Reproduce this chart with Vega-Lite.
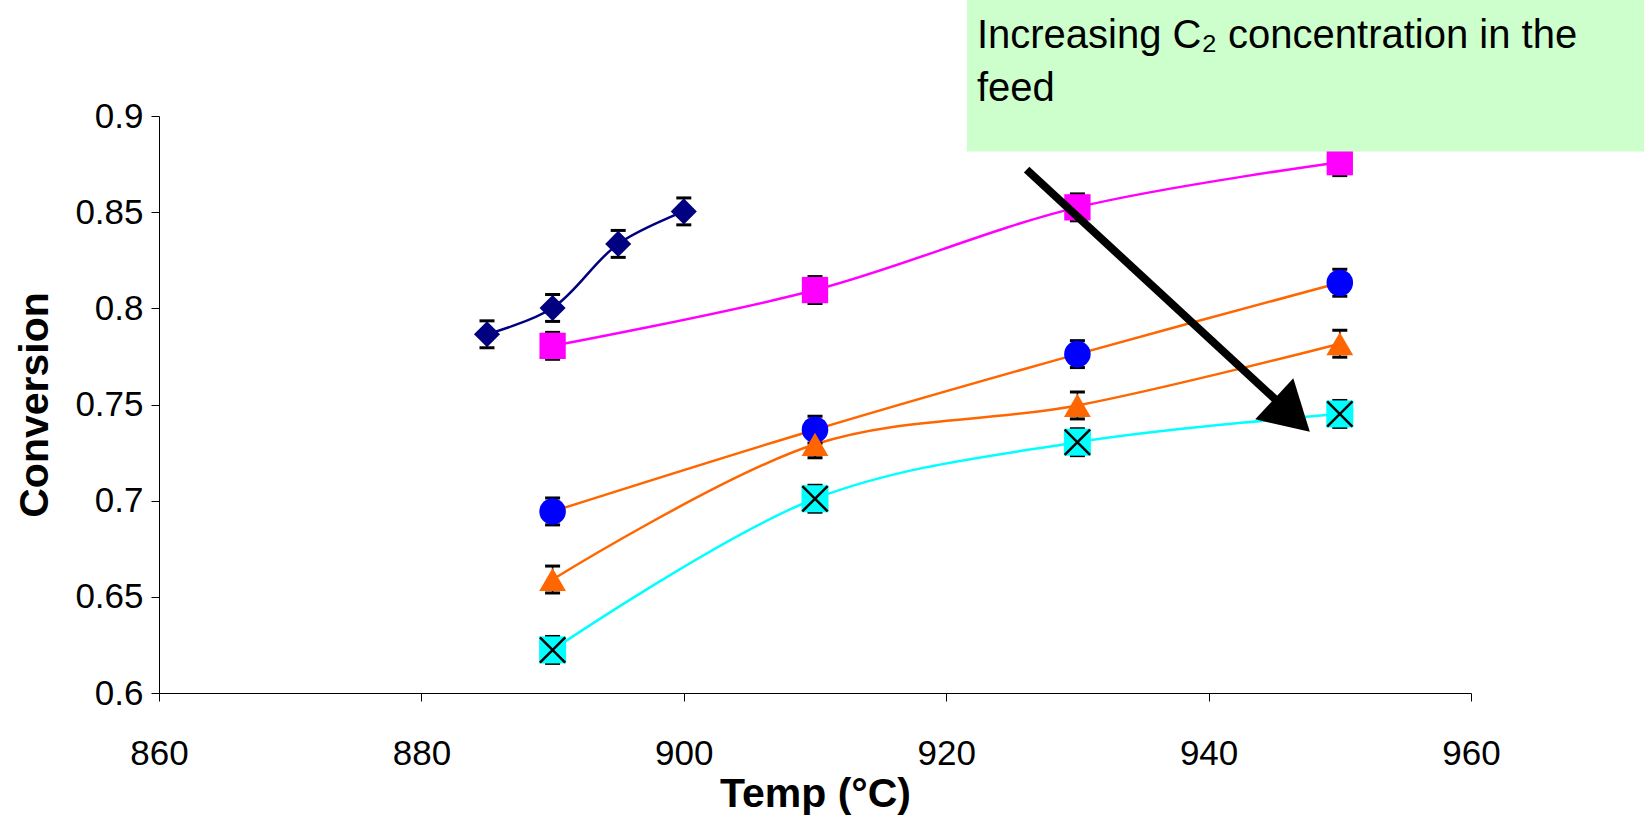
{
  "$schema": "https://vega.github.io/schema/vega-lite/v6.json",
  "width": 1312,
  "height": 577,
  "autosize": {"type": "none"},
  "padding": {"left": 159, "top": 116, "right": 173, "bottom": 129},
  "background": "white",
  "config": {"view": {"stroke": null}, "font": "Liberation Sans"},
  "datasets": {
    "pts": [
      {"series": "S1", "temp": 885, "conv": 0.7865, "err": 0.007},
      {"series": "S1", "temp": 890, "conv": 0.8002, "err": 0.007},
      {"series": "S1", "temp": 895, "conv": 0.8335, "err": 0.007},
      {"series": "S1", "temp": 900, "conv": 0.8504, "err": 0.007},
      {"series": "S2", "temp": 890, "conv": 0.7805, "err": 0.007},
      {"series": "S2", "temp": 910, "conv": 0.8095, "err": 0.007},
      {"series": "S2", "temp": 930, "conv": 0.8525, "err": 0.007},
      {"series": "S2", "temp": 950, "conv": 0.876, "err": 0.007},
      {"series": "S3", "temp": 890, "conv": 0.6944, "err": 0.007},
      {"series": "S3", "temp": 910, "conv": 0.7369, "err": 0.007},
      {"series": "S3", "temp": 930, "conv": 0.7762, "err": 0.007},
      {"series": "S3", "temp": 950, "conv": 0.8133, "err": 0.007},
      {"series": "S4", "temp": 890, "conv": 0.659, "err": 0.007},
      {"series": "S4", "temp": 910, "conv": 0.7293, "err": 0.007},
      {"series": "S4", "temp": 930, "conv": 0.7495, "err": 0.007},
      {"series": "S4", "temp": 950, "conv": 0.7816, "err": 0.007},
      {"series": "S5", "temp": 890, "conv": 0.6224, "err": 0.007},
      {"series": "S5", "temp": 910, "conv": 0.701, "err": 0.007},
      {"series": "S5", "temp": 930, "conv": 0.7304, "err": 0.007},
      {"series": "S5", "temp": 950, "conv": 0.7451, "err": 0.007}
    ],
    "box": [{"x1": 921.58, "x2": 973.2, "y1": 0.9606, "y2": 0.8815, "label": "Increasing C₂ concentration in the\nfeed", "tx": 922.34, "ty": 0.9352}],
    "arrow": [{"x1": 926.13, "y1": 0.8721, "x2": 945.44, "y2": 0.7504, "hx": 946.36, "hy": 0.7444}]
  },
  "layer": [
    {
      "data": {"name": "pts"},
      "mark": {"type": "line", "interpolate": "catmull-rom", "strokeWidth": 2.5},
      "encoding": {
        "x": {"field": "temp", "type": "quantitative",
          "scale": {"domain": [860, 960], "nice": false, "zero": false},
          "axis": {"title": "Temp (°C)", "values": [860, 880, 900, 920, 940, 960], "grid": false, "labelFlush": false,
            "domainColor": "black", "tickColor": "black", "tickSize": 8, "labelFontSize": 35, "labelColor": "black",
            "labelPadding": 35, "titleFontSize": 41, "titleFontWeight": "bold", "titleColor": "black", "titlePadding": 3}},
        "y": {"field": "conv", "type": "quantitative",
          "scale": {"domain": [0.6, 0.9], "nice": false, "zero": false},
          "axis": {"title": "Conversion", "values": [0.6, 0.65, 0.7, 0.75, 0.8, 0.85, 0.9], "format": ".2~f", "grid": false,
            "domainColor": "black", "tickColor": "black", "tickSize": 8, "labelFontSize": 35, "labelColor": "black",
            "labelPadding": 8, "titleFontSize": 41, "titleFontWeight": "bold", "titleColor": "black", "titlePadding": 18}},
        "stroke": {"field": "series", "type": "nominal",
          "scale": {"domain": ["S1", "S2", "S3", "S4", "S5"], "range": ["#000080", "#FF00FF", "#FF6600", "#FF6600", "#00FFFF"]},
          "legend": null},
        "detail": {"field": "series"}
      }
    },
    {
      "data": {"name": "pts"},
      "mark": {"type": "errorbar", "color": "black", "ticks": {"size": 15, "thickness": 3, "color": "black", "opacity": 1}, "rule": {"color": "black", "strokeWidth": 1.5, "opacity": 1}},
      "encoding": {
        "x": {"field": "temp", "type": "quantitative", "title": "Temp (°C)"},
        "y": {"field": "conv", "type": "quantitative", "title": "Conversion"},
        "yError": {"field": "err"}
      }
    },
    {
      "data": {"name": "pts"},
      "mark": {"type": "point", "filled": true, "opacity": 1, "strokeWidth": 0},
      "encoding": {
        "x": {"field": "temp", "type": "quantitative"},
        "y": {"field": "conv", "type": "quantitative"},
        "fill": {"field": "series", "type": "nominal",
          "scale": {"domain": ["S1", "S2", "S3", "S4", "S5"], "range": ["#000080", "#FF00FF", "#0000FF", "#FF6600", "#00FFFF"]},
          "legend": null},
        "shape": {"field": "series", "type": "nominal",
          "scale": {"domain": ["S1", "S2", "S3", "S4", "S5"], "range": ["diamond", "square", "circle", "triangle-up", "square"]},
          "legend": null},
        "size": {"field": "series", "type": "nominal",
          "scale": {"domain": ["S1", "S2", "S3", "S4", "S5"], "range": [680, 729, 620, 760, 640]},
          "legend": null}
      }
    },
    {
      "data": {"name": "pts"},
      "transform": [{"filter": "datum.series === 'S5'"}],
      "mark": {"type": "point", "shape": "M-1,-1L1,1M-1,1L1,-1", "size": 640, "filled": false, "stroke": "black", "strokeWidth": 2.5, "opacity": 1},
      "encoding": {
        "x": {"field": "temp", "type": "quantitative"},
        "y": {"field": "conv", "type": "quantitative"}
      }
    },
    {
      "data": {"name": "box"},
      "mark": {"type": "rect", "fill": "#CCFFCC", "clip": false},
      "encoding": {
        "x": {"field": "x1", "type": "quantitative"},
        "x2": {"field": "x2"},
        "y": {"field": "y1", "type": "quantitative"},
        "y2": {"field": "y2"}
      }
    },
    {
      "data": {"name": "box"},
      "mark": {"type": "text", "align": "left", "baseline": "alphabetic", "fontSize": 40, "lineBreak": "\n", "lineHeight": 53, "color": "black", "font": "Liberation Sans"},
      "encoding": {
        "x": {"field": "tx", "type": "quantitative"},
        "y": {"field": "ty", "type": "quantitative"},
        "text": {"field": "label"}
      }
    },
    {
      "data": {"name": "arrow"},
      "mark": {"type": "rule", "strokeWidth": 8, "color": "black"},
      "encoding": {
        "x": {"field": "x1", "type": "quantitative"},
        "y": {"field": "y1", "type": "quantitative"},
        "x2": {"field": "x2"},
        "y2": {"field": "y2"}
      }
    },
    {
      "data": {"name": "arrow"},
      "mark": {"type": "point", "shape": "triangle-right", "size": 3136, "filled": true, "color": "black", "opacity": 1, "angle": 42.8},
      "encoding": {
        "x": {"field": "hx", "type": "quantitative"},
        "y": {"field": "hy", "type": "quantitative"}
      }
    }
  ]
}
